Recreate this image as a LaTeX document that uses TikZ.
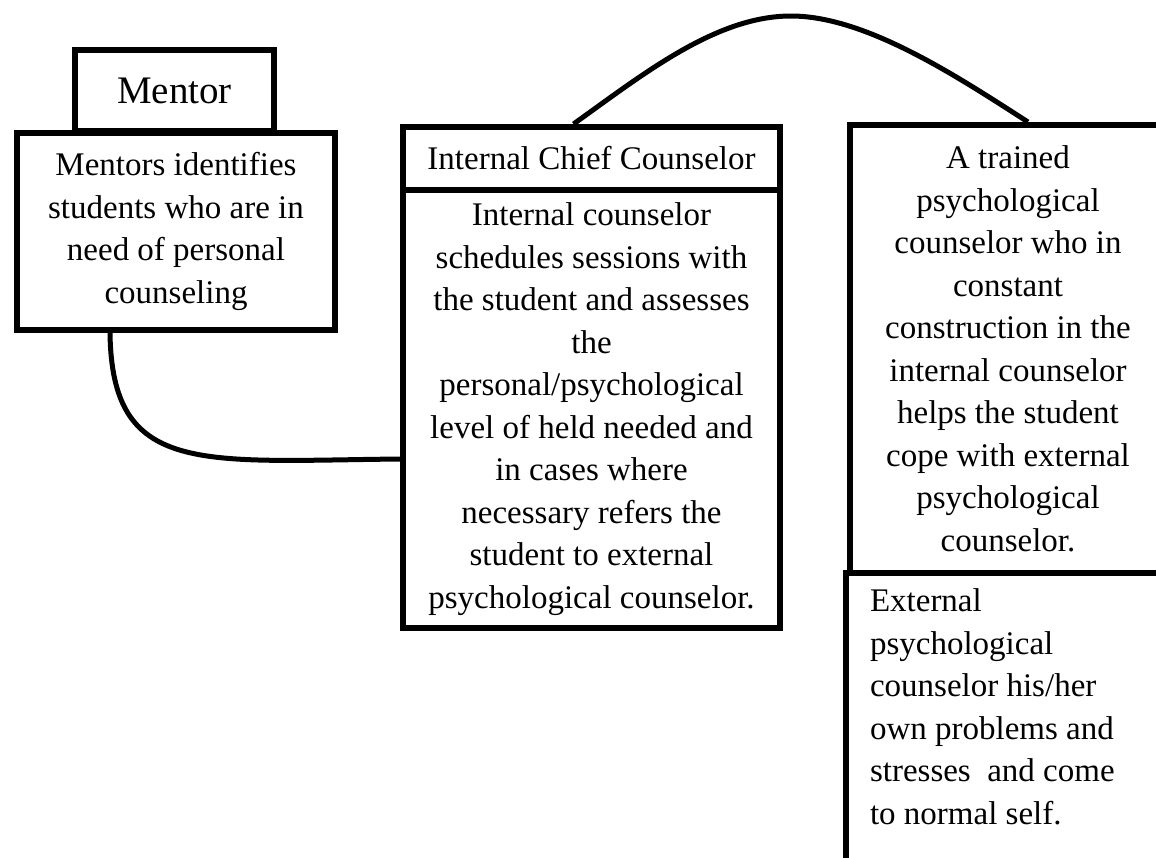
\documentclass[tikz,border=0pt]{standalone}
\usepackage{fontspec}
\setmainfont{Liberation Serif}
\usetikzlibrary{calc}

\tikzset{
  box/.style={draw, line width=3pt, align=center, inner sep=0pt, anchor=north west,
    font=\fontsize{16.5}{21.25}\selectfont},
  link/.style={line width=2.5pt},
}

\begin{document}
\begin{tikzpicture}[x=0.5pt, y=-0.5pt]
  \clip (0,0) rectangle (1156,857);

  % mentor column
  \node [box, minimum width=99.5pt, minimum height=40.5pt,
    font=\fontsize{19.5}{23}\selectfont] (mentor) at (72,47) {Mentor};
  \node [box, minimum width=159pt, minimum height=98.5pt] (mentors) at (14,130)
    {Mentors identifies\\students who are in\\need of personal\\counseling};

  % internal counselor
  \node [box, minimum width=188.5pt, minimum height=31.5pt] (head) at (400,124)
    {Internal Chief Counselor};
  \node [box, minimum width=188.5pt, minimum height=219pt] (body) at (400,187)
    {Internal counselor\\schedules sessions with\\the student and assesses\\the\\
     personal/psychological\\level of held needed and\\in cases where\\
     necessary refers the\\student to external\\psychological counselor.};

  % external counselor
  \node [box, minimum width=158pt, minimum height=224pt] (trained) at (847,122)
    {A trained\\psychological\\counselor who in\\constant\\construction in the\\
     internal counselor\\helps the student\\cope with external\\psychological\\counselor.};
  \node [box, inner xsep=12pt, inner ysep=8pt] (external) at (843,570)
    {\parbox[t][150pt][t]{136pt}{\raggedright External\\psychological\\
     counselor his/her\\own problems and\\stresses\ \ and come\\to normal self.}};

  % links
  \draw [link] ($(mentors.south west)+(96,0)$) .. controls +(2,143) and +(-200,2)
    .. ($(body.west)+(0,50)$);
  \draw [link] ($(head.north)+(-18,0)$) .. controls +(70,-50) and +(-75,0) .. (791,16)
    .. controls +(75,0) and +(-70,-45) .. ($(trained.north)+(20,0)$);
\end{tikzpicture}
\end{document}
